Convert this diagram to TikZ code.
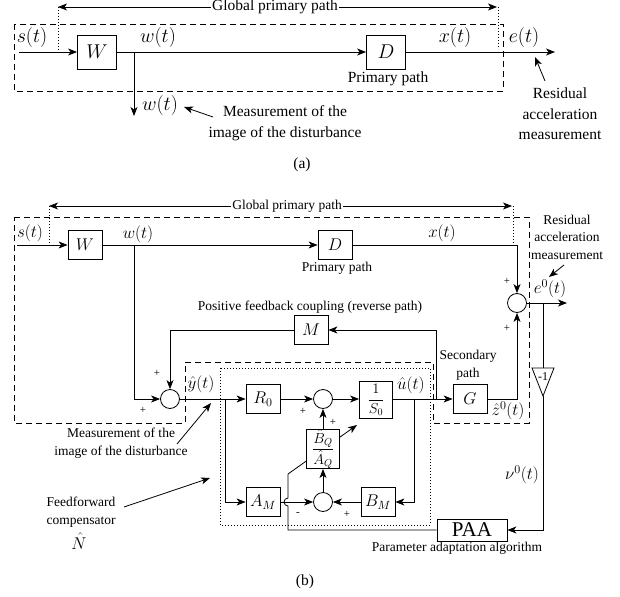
\RequirePackage{fix-cm}
\documentclass[tikz,border=0pt]{standalone}
\usepackage[no-math]{fontspec}
\setmainfont{Liberation Serif}
\usetikzlibrary{arrows.meta}
\begin{document}
\begin{tikzpicture}[x=1pt,y=-1pt, line width=0.8pt,
  tA/.style={font=\fontsize{15.5}{20.5}\selectfont, align=center, inner sep=1pt},
  tB/.style={font=\fontsize{13.5}{17.5}\selectfont, align=center, inner sep=1pt},
  mA/.style={font=\fontsize{20}{23}\selectfont, inner sep=1pt},
  mB/.style={font=\fontsize{17}{19}\selectfont, inner sep=1pt},
  pm/.style={font=\fontsize{11}{12}\selectfont, inner sep=0pt},
  blkA/.style={draw, fill=white, minimum width=39pt, minimum height=34pt, inner sep=0pt, font=\fontsize{20}{23}\selectfont},
  blkB/.style={draw, fill=white, minimum width=34pt, minimum height=29pt, inner sep=0pt, font=\fontsize{17}{19}\selectfont},
  fracblk/.style={draw, fill=white, minimum width=33pt, inner sep=0pt, font=\fontsize{14.5}{16}\selectfont},
  sumc/.style={draw, circle, fill=white, minimum size=19pt, inner sep=0pt},
  arr/.style={-{Stealth[length=9pt,width=7pt,inset=2.5pt]}},
  dsh/.style={dash pattern=on 6pt off 4pt},
  dotl/.style={dash pattern=on 0.8pt off 2.2pt}]
\useasboundingbox (0,0) rectangle (620,596);

% ================= (a) =================
\draw[dsh] (14,24) rectangle (503,91);
\node[tA] (gpa) at (275,7) {Global primary path};
\coordinate (gla) at (58,7);
\coordinate (gra) at (497,7);
\draw[arr] (gpa.west) -- (gla);
\draw[arr] (gpa.east) -- (gra);
\draw[dotl] (58,7) -- (58,52);
\draw[dotl] (498,7) -- (498,49);

\node[blkA] (Wa) at (97,52) {$W$};
\node[blkA] (Da) at (386,52) {$D$};
\coordinate (sa) at (19,52);
\coordinate (ea) at (555,52);
\draw[arr] (sa) -- (Wa);
\draw[arr] (Wa) -- (Da);
\draw[arr] (Da) -- (ea);
\coordinate (wba) at (134,52);
\coordinate (wda) at (134,116);
\draw[arr] (wba) -- (wda);

\node[mA] (lsa) at (32,38) {$s(t)$};
\node[mA] (lwa) at (158,38) {$w(t)$};
\node[mA] (lxa) at (455,38) {$x(t)$};
\node[mA] (lea) at (524,38) {$e(t)$};
\node[mA] (lwa2) at (160,106) {$w(t)$};
\node[tA] (ppa) at (388,79) {Primary path};
\node[tA] (measa) at (285,123) {Measurement of the\\image of the disturbance};
\coordinate (ma1) at (213,117);
\coordinate (ma2) at (184,107);
\draw[arr] (ma1) -- (ma2);
\node[tA] (resa) at (560,114) {Residual\\acceleration\\measurement};
\coordinate (ra1) at (545,81);
\coordinate (ra2) at (535,57);
\draw[arr] (ra1) -- (ra2);
\node[tA] (capa) at (302,165) {(a)};

% ================= (b) =================
\draw[dsh] (14,217) -- (529,217) -- (529,423) -- (433,423) -- (433,362) -- (185,362) -- (185,423) -- (14,423) -- cycle;
\draw[dotl] (220,368) rectangle (430,525);

\node[tB] (gpb) at (287,206) {Global primary path};
\coordinate (glb) at (49,206);
\coordinate (grb) at (512,206);
\draw[arr] (gpb.west) -- (glb);
\draw[arr] (gpb.east) -- (grb);
\draw[dotl] (49,206) -- (49,245);
\draw[dotl] (513,206) -- (513,243);

\node[blkB] (W) at (85,245) {$W$};
\node[blkB] (D) at (335,245) {$D$};
\coordinate (sb) at (17,245);
\draw[arr] (sb) -- (W);
\draw[arr] (W) -- (D);

\node[sumc] (S1) at (517,303) {};
\draw[arr] (D) -| (S1);

\node[sumc] (S2) at (170,399) {};
\coordinate (wbr) at (134,245);
\draw[arr] (wbr) |- (S2);

\node[blkB] (M) at (311,330) {$M$};
\draw[arr] (M) -| (S2);

\node[blkB] (R0) at (263,399) {$R_0$};
\draw[arr] (S2) -- (R0);
\node[sumc] (S3) at (323,399) {};
\draw[arr] (R0) -- (S3);
\node[fracblk, minimum height=37pt] (S0) at (376,400) {$\displaystyle\frac{1}{S_0}$};
\draw[arr] (S3) -- (S0.west |- S3);
\node[blkB] (G) at (470,399) {$G$};
\coordinate (s0out) at (S0.east |- S3);
\draw[arr] (s0out) -- (G);
\draw[arr] (G) -| (S1);

\coordinate (ubr) at (436,399);
\draw[arr] (ubr) |- (M);
\coordinate (ubr2) at (414,399);
\node[blkB] (BM) at (378,502) {$B_M$};
\draw[arr] (ubr2) |- (BM);
\node[sumc] (S4) at (323,502) {};
\draw[arr] (BM) -- (S4);
\node[blkB] (AM) at (263,502) {$A_M$};
\draw[arr] (AM) -- (S4);
\coordinate (ybr) at (225,399);
\draw[arr] (ybr) |- (AM);

% e0 branch, -1 gain, PAA
\coordinate (eout) at (567,303);
\draw[arr] (S1) -- (eout);
\coordinate (ebr) at (543,303);
\coordinate (tritop) at (543,368);
\coordinate (tribot) at (543,396);
\draw (532,368) -- (554,368) -- (543,396) -- cycle;
\node[font=\fontsize{12}{13}\selectfont, inner sep=0pt] (gainlbl) at (543,377) {-1};
\draw (ebr) -- (tritop);
\node[draw, fill=white, minimum width=70pt, minimum height=22pt, inner sep=0pt, font=\fontsize{21}{24}\selectfont] (PAA) at (472,530) {PAA};
\draw[arr] (tribot) |- (PAA);

% adaptation line through Q block (drawn before the block)
\coordinate (pa1) at (288,474);
\coordinate (pa2) at (357,425);
\draw (PAA.west) -| (288,506) arc[start angle=90, end angle=270, radius=4] -- (pa1);
\draw[arr] (pa1) -- (pa2);
\node[fracblk, minimum height=39pt] (Q) at (323,449) {$\displaystyle\frac{\hat B_Q}{\hat A_Q}$};
\draw[arr] (S4) -- (Q);
\draw[arr] (Q) -- (S3);

% labels (b)
\node[mB] (lsb) at (30,233) {$s(t)$};
\node[mB] (lwb) at (138,234) {$w(t)$};
\node[mB] (lxb) at (442,233) {$x(t)$};
\node[mB] (leb) at (550,289) {$e^0(t)$};
\node[mB] (lyh) at (201,384) {$\hat y(t)$};
\node[mB] (luh) at (411,385) {$\hat u(t)$};
\node[mB] (lzh) at (508,411) {$\hat z^0(t)$};
\node[mB] (lnu) at (522,475) {$\nu^0(t)$};
\node[tB] (ppb) at (337,268) {Primary path};
\node[tB] (secb) at (468,365) {Secondary\\path};
\node[tB] (pfb) at (310,307) {Positive feedback coupling (reverse path)};
\node[tB] (paab) at (457,548) {Parameter adaptation algorithm};
\node[tB] (resb) at (567,237) {Residual\\acceleration\\measurement};
\coordinate (rb1) at (564,265);
\coordinate (rb2) at (549,277);
\draw[arr] (rb1) -- (rb2);
\node[tB] (measb) at (121,443) {Measurement of the\\image of the disturbance};
\coordinate (mb1) at (177,444);
\coordinate (mb2) at (211,403);
\draw[arr] (mb1) -- (mb2);
\node[tB] (ffb) at (81,512) {Feedforward\\compensator};
\node[mB] (nhat) at (79,541) {$\hat N$};
\coordinate (fb1) at (124,507);
\coordinate (fb2) at (210,478);
\draw[arr] (fb1) -- (fb2);

% signs
\node[pm] (p1) at (507,281) {+};
\node[pm] (p2) at (507,328) {+};
\node[pm] (p3) at (157,373) {+};
\node[pm] (p4) at (143,410) {+};
\node[pm] (p5) at (303,411) {+};
\node[pm] (p6) at (333,422) {+};
\node[pm] (p7) at (298,514) {-};
\node[pm] (p8) at (347,514) {+};

\node[tA] (capb) at (305,582) {(b)};
\end{tikzpicture}
\end{document}
